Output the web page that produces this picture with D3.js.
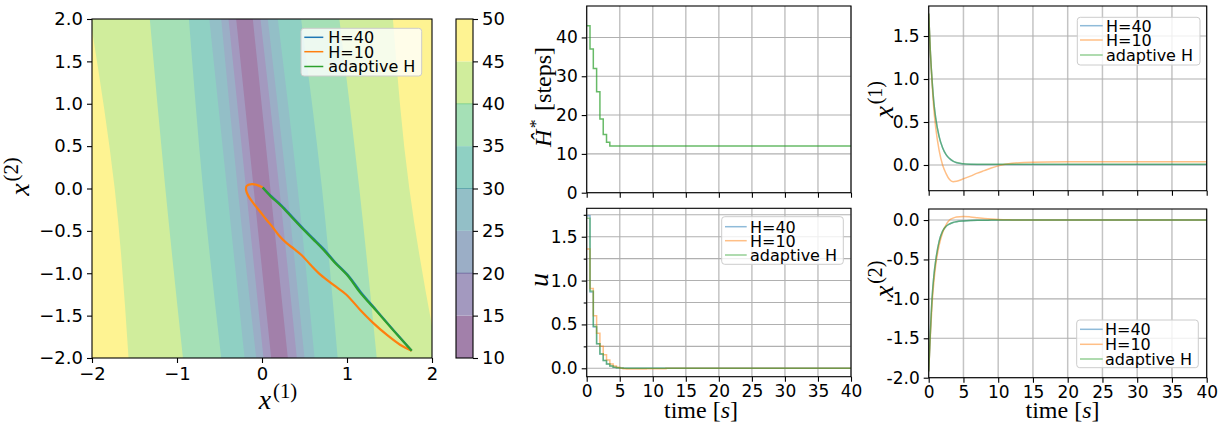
<!DOCTYPE html>
<html>
<head>
<meta charset="utf-8">
<script src="https://cdn.jsdelivr.net/npm/d3@7"></script>
<style>
  body { margin: 0; background: #fff; }
  svg { display: block; }
</style>
</head>
<body>
<svg id="fig" width="1226" height="428"></svg>
<script>
// ---------------- data ----------------
// Contour map of the estimated optimal horizon over the state plane.
// Each boundary is given by its x(1) crossing at the rows x(2) = 2, 0, -2.
const contourRows = [2, 0, -2];
const boundaryLevels = [45, 40, 35, 30, 25, 20, 15];
const leftCrossing = [
  [-2.02, -1.733, -1.57],
  [-1.32, -1.137, -0.93],
  [-0.86, -0.694, -0.48],
  [-0.62, -0.412, -0.205],
  [-0.48, -0.286, -0.068],
  [-0.394, -0.188, 0.018],
  [-0.304, -0.098, 0.108]
];
const rightCrossing = [
  [1.54, 1.733, 2.07],
  [0.91, 1.145, 1.35],
  [0.46, 0.706, 0.89],
  [0.186, 0.42, 0.618],
  [0.068, 0.294, 0.50],
  [-0.018, 0.204, 0.41],
  [-0.108, 0.098, 0.304]
];
const colorbarLevels = [10, 15, 20, 25, 30, 35, 40, 45, 50];
const colorbarEdgeLevels = [20, 30, 40];

// State trajectories in the phase plane (x1, x2)
const phaseH40X1 = [1.761, 1.555, 1.357, 1.160, 1.024, 0.860, 0.732, 0.612, 0.482, 0.360, 0.230, 0.108, 0.008];
const phaseH40X2 = [-1.914, -1.680, -1.450, -1.220, -1.038, -0.870, -0.720, -0.600, -0.470, -0.340, -0.200, -0.090, 0.012];
const phaseH10X1 = [1.761, 1.624, 1.467, 1.310, 1.153, 0.990, 0.845, 0.690, 0.570, 0.470, 0.380, 0.290, 0.200, 0.125, 0.050, -0.024, -0.102, -0.161, -0.188, -0.180, -0.121, -0.062, 0.008];
const phaseH10X2 = [-1.914, -1.843, -1.725, -1.588, -1.430, -1.250, -1.140, -1.020, -0.900, -0.790, -0.715, -0.645, -0.555, -0.455, -0.365, -0.271, -0.173, -0.087, -0.016, 0.031, 0.051, 0.043, 0.012];
const phaseAdaptX1 = [1.761, 1.550, 1.350, 1.150, 1.016, 0.852, 0.722, 0.602, 0.472, 0.350, 0.220, 0.100, 0.008];
const phaseAdaptX2 = [-1.914, -1.680, -1.450, -1.222, -1.038, -0.870, -0.722, -0.600, -0.470, -0.340, -0.200, -0.090, 0.012];

// Adaptive horizon over time (steps)
const horizonTime = [0, 0.5, 1.0, 1.5, 2.0, 2.5, 3.0, 3.5, 40];
const horizonSteps = [43, 37, 32, 26, 19, 15, 13, 12, 12];

// Control input (zero-order hold)
const uTime = [0, 0.5, 1.0, 1.5, 2.0, 2.5, 3.0, 3.5, 4.0, 4.5, 5.0, 5.5, 6.0, 7.0, 8.0, 9.0, 10.0, 12.0, 40];
const uH40 = [1.74, 0.87, 0.47, 0.28, 0.16, 0.09, 0.05, 0.027, 0.013, 0.006, 0.003, 0.001, 0, 0, 0, 0, 0, 0, 0];
const uH10 = [1.36, 0.91, 0.60, 0.40, 0.25, 0.155, 0.095, 0.05, 0.027, 0.011, 0.0, -0.006, -0.009, -0.009, -0.008, -0.006, -0.004, 0, 0];
const uAdapt = [1.71, 0.88, 0.48, 0.28, 0.165, 0.09, 0.05, 0.027, 0.013, 0.006, 0.003, 0.001, 0, 0, 0, 0, 0, 0, 0];

// States over time
const xTime = [0, 0.25, 0.5, 0.75, 1, 1.5, 2, 2.5, 3, 3.5, 4, 5, 6, 7, 8, 9, 10, 12, 15, 20, 25, 30, 35, 40];
const x1H40 = [1.76, 1.30, 0.97, 0.72, 0.55, 0.33, 0.20, 0.12, 0.074, 0.044, 0.027, 0.013, 0.008, 0.007, 0.007, 0.007, 0.007, 0.007, 0.007, 0.007, 0.007, 0.007, 0.007, 0.007];
const x1H10 = [1.76, 1.29, 0.93, 0.64, 0.44, 0.17, 0.00, -0.10, -0.17, -0.195, -0.19, -0.16, -0.13, -0.095, -0.065, -0.035, -0.01, 0.02, 0.033, 0.037, 0.038, 0.038, 0.038, 0.038];
const x1Adapt = [1.76, 1.30, 0.97, 0.72, 0.55, 0.33, 0.20, 0.12, 0.075, 0.045, 0.028, 0.014, 0.009, 0.008, 0.008, 0.008, 0.008, 0.008, 0.008, 0.008, 0.008, 0.008, 0.008, 0.008];
const x2H40 = [-1.92, -1.40, -0.97, -0.70, -0.52, -0.27, -0.14, -0.08, -0.05, -0.032, -0.022, -0.012, -0.006, -0.003, -0.002, -0.001, 0, 0, 0, 0, 0, 0, 0, 0];
const x2H10 = [-1.92, -1.45, -1.05, -0.78, -0.58, -0.32, -0.16, -0.06, 0.0, 0.025, 0.04, 0.046, 0.04, 0.03, 0.02, 0.012, 0.006, 0.002, 0, 0, 0, 0, 0, 0];
const x2Adapt = [-1.92, -1.40, -0.97, -0.70, -0.52, -0.27, -0.14, -0.08, -0.05, -0.032, -0.022, -0.012, -0.006, -0.003, -0.002, -0.001, 0, 0, 0, 0, 0, 0, 0, 0];

// Tick values
const phaseTicksX = [-2, -1, 0, 1, 2];
const phaseTicksY = [-2, -1.5, -1, -0.5, 0, 0.5, 1, 1.5, 2];
const colorbarTicks = [10, 15, 20, 25, 30, 35, 40, 45, 50];
const timeTicks = [0, 5, 10, 15, 20, 25, 30, 35, 40];
const horizonTicks = [0, 10, 20, 30, 40];
const uTicks = [0, 0.5, 1.0, 1.5];
const uMinorTicks = [0.25, 0.75, 1.25, 1.75];
const x1Ticks = [0, 0.5, 1.0, 1.5];
const x2Ticks = [-2, -1.5, -1, -0.5, 0];

const seriesNames = ["H=40", "H=10", "adaptive H"];

// ---------------- drawing ----------------
const svg = d3.select("#fig");
const COL = ["#1f77b4", "#ff7f0e", "#2ca02c"];
const TICK_FS = 17;
const SANS = "DejaVu Sans, sans-serif";
const SERIF = "Liberation Serif, DejaVu Serif, serif";

function styleAxis(g, fs) {
  g.select(".domain").remove();
  g.selectAll(".tick line").attr("stroke", "#000").attr("stroke-width", 1.1);
  g.selectAll(".tick text").attr("font-size", fs).attr("font-family", SANS).attr("fill", "#000");
}
function frame(b) {
  svg.append("rect").attr("x", b.x0).attr("y", b.y0)
    .attr("width", b.x1 - b.x0).attr("height", b.y1 - b.y0)
    .attr("fill", "none").attr("stroke", "#000").attr("stroke-width", 1.1);
}
function grid(x, y, b, xv, yv) {
  const g = svg.append("g");
  g.selectAll(".gv").data(xv).join("line")
    .attr("x1", d => x(d)).attr("x2", d => x(d)).attr("y1", b.y0).attr("y2", b.y1)
    .attr("stroke", "#c4c4c4").attr("stroke-width", 1.5);
  g.selectAll(".gh").data(yv).join("line")
    .attr("y1", d => y(d)).attr("y2", d => y(d)).attr("x1", b.x0).attr("x2", b.x1)
    .attr("stroke", "#b0b0b0").attr("stroke-width", 1.1);
}
function legend(b, rows, opacity) {
  const g = svg.append("g");
  g.append("rect").attr("x", b.x0).attr("y", b.y0).attr("width", b.x1 - b.x0).attr("height", b.y1 - b.y0)
    .attr("rx", 3).attr("fill", "#fff").attr("fill-opacity", 0.8).attr("stroke", "#cccccc").attr("stroke-width", 1);
  seriesNames.forEach((name, i) => {
    const cy = rows.y[i];
    g.append("line").attr("x1", rows.h0).attr("x2", rows.h1).attr("y1", cy).attr("y2", cy)
      .attr("stroke", COL[i]).attr("stroke-width", rows.w).attr("stroke-opacity", opacity);
    g.append("text").attr("x", rows.tx).attr("y", cy + 5.8).attr("font-size", 16)
      .attr("font-family", SANS).attr("fill", "#000").text(name);
  });
}
function mathLabel(x, y, rot, parts, fs) {
  const t = svg.append("text").attr("font-family", SERIF).attr("font-size", fs)
    .attr("text-anchor", "middle").attr("fill", "#000")
    .attr("transform", `translate(${x},${y})` + (rot ? " rotate(-90)" : ""));
  parts.forEach(p => {
    const s = t.append("tspan").text(p.t);
    if (p.i) s.attr("font-style", "italic");
    if (p.sup) s.attr("font-size", fs * 0.74).attr("dy", -fs * 0.4).attr("dx", fs * 0.06);
    if (p.down) s.attr("dy", fs * 0.4).attr("dx", fs * 0.35);
  });
}

// ---- Panel A: contour map ----
const A = { x0: 92, x1: 432, y0: 19, y1: 358 };
const xa = d3.scaleLinear().domain([-2, 2]).range([A.x0, A.x1]);
const ya = d3.scaleLinear().domain([-2, 2]).range([A.y1, A.y0]);
const bandColor = i => d3.interpolateRgb("#ffffff", d3.interpolateViridis(i / 7))(0.5);

svg.append("clipPath").attr("id", "clipA").append("rect")
  .attr("x", A.x0).attr("y", A.y0).attr("width", A.x1 - A.x0).attr("height", A.y1 - A.y0);
const gA = svg.append("g").attr("clip-path", "url(#clipA)");
gA.append("rect").attr("x", A.x0).attr("y", A.y0).attr("width", A.x1 - A.x0).attr("height", A.y1 - A.y0)
  .attr("fill", bandColor(7));
const bandArea = d3.area().curve(d3.curveNatural)
  .y(d => ya(d.r)).x0(d => xa(d.l)).x1(d => xa(d.rt));
boundaryLevels.forEach((L, k) => {
  const pts = contourRows.map((r, j) => ({ r, l: leftCrossing[k][j], rt: rightCrossing[k][j] }));
  gA.append("path").attr("d", bandArea(pts)).attr("fill", bandColor((L - 10) / 5 - 1));
});

const phaseLine = d3.line().curve(d3.curveCatmullRom.alpha(0.5)).x(d => xa(d[0])).y(d => ya(d[1]));
[[phaseH40X1, phaseH40X2], [phaseH10X1, phaseH10X2], [phaseAdaptX1, phaseAdaptX2]].forEach((s, i) => {
  gA.append("path").attr("d", phaseLine(d3.zip(s[0], s[1])))
    .attr("fill", "none").attr("stroke", COL[i]).attr("stroke-width", 2.2).attr("stroke-linejoin", "round");
});
frame(A);
styleAxis(svg.append("g").attr("transform", `translate(0,${A.y1})`)
  .call(d3.axisBottom(xa).tickValues(phaseTicksX).tickFormat(d3.format("d")).tickSize(5).tickPadding(4)), 18);
styleAxis(svg.append("g").attr("transform", `translate(${A.x0},0)`)
  .call(d3.axisLeft(ya).tickValues(phaseTicksY).tickFormat(d3.format(".1f")).tickSize(5).tickPadding(4)), 18);
legend({ x0: 301, x1: 421.7, y0: 28.3, y1: 76 }, { y: [37.3, 51.7, 66.5], h0: 304.3, h1: 323.3, tx: 328.3, w: 1.5 }, 1);
mathLabel(278, 409, false, [{ t: "x", i: true }, { t: "(1)", sup: true }], 28);
mathLabel(29, 176.5, true, [{ t: "x", i: true }, { t: "(2)", sup: true }], 28);

// ---- colorbar ----
const CB = { x0: 456, x1: 473, y0: 19, y1: 358 };
const yc = d3.scaleLinear().domain([10, 50]).range([CB.y1, CB.y0]);
svg.append("g").selectAll("rect").data(d3.range(colorbarLevels.length - 1)).join("rect")
  .attr("x", CB.x0).attr("width", CB.x1 - CB.x0)
  .attr("y", i => yc(colorbarLevels[i + 1])).attr("height", i => yc(colorbarLevels[i]) - yc(colorbarLevels[i + 1]))
  .attr("fill", i => bandColor(i));
svg.append("g").selectAll("line").data(colorbarEdgeLevels).join("line")
  .attr("x1", CB.x0).attr("x2", CB.x1).attr("y1", d => yc(d)).attr("y2", d => yc(d))
  .attr("stroke", d => d3.interpolateViridis(((d - 10) / 5 - 1) / 7)).attr("stroke-opacity", 0.55).attr("stroke-width", 1);
frame(CB);
styleAxis(svg.append("g").attr("transform", `translate(${CB.x1},0)`)
  .call(d3.axisRight(yc).tickValues(colorbarTicks).tickFormat(d3.format("d")).tickSize(5).tickPadding(4)), 18);

// ---- shared time-panel helpers ----
function timePanel(b, yDom) {
  const x = d3.scaleLinear().domain([0, 40]).range([b.x0, b.x1]);
  const y = d3.scaleLinear().domain(yDom).range([b.y1, b.y0]);
  return { x, y };
}
function clipFor(id, b) {
  svg.append("clipPath").attr("id", id).append("rect")
    .attr("x", b.x0).attr("y", b.y0).attr("width", b.x1 - b.x0).attr("height", b.y1 - b.y0);
  return svg.append("g").attr("clip-path", `url(#${id})`);
}

// ---- Panel B: adaptive horizon ----
const B = { x0: 586.7, x1: 851, y0: 6, y1: 192.7 };
const sB = timePanel(B, [0, 48.1]);
grid(sB.x, sB.y, B, timeTicks, horizonTicks);
clipFor("clipB", B).append("path")
  .attr("d", d3.line().curve(d3.curveStepAfter).x((d, i) => sB.x(horizonTime[i])).y(d => sB.y(d))(horizonSteps))
  .attr("fill", "none").attr("stroke", COL[2]).attr("stroke-width", 1.5).attr("stroke-opacity", 0.72);
frame(B);
styleAxis(svg.append("g").attr("transform", `translate(0,${B.y1})`)
  .call(d3.axisBottom(sB.x).tickValues(timeTicks).tickFormat("").tickSize(5)), TICK_FS);
styleAxis(svg.append("g").attr("transform", `translate(${B.x0},0)`)
  .call(d3.axisLeft(sB.y).tickValues(horizonTicks).tickFormat(d3.format("d")).tickSize(5).tickPadding(4)), TICK_FS);
mathLabel(551, 97, true, [{ t: "Ĥ", i: true }, { t: "*", sup: true }, { t: "[steps]", down: true }], 24);

// ---- Panel C: control input ----
const Cp = { x0: 586.7, x1: 851, y0: 208.3, y1: 376.7 };
const sC = timePanel(Cp, [-0.096, 1.824]);
grid(sC.x, sC.y, Cp, timeTicks, uTicks.concat(uMinorTicks));
const gC = clipFor("clipC", Cp);
const stepLine = (s) => d3.line().curve(d3.curveStepAfter).x((d, i) => s.x(uTime[i])).y(d => s.y(d));
[uH40, uH10, uAdapt].forEach((v, i) => {
  gC.append("path").attr("d", stepLine(sC)(v)).attr("fill", "none")
    .attr("stroke", COL[i]).attr("stroke-width", 1.5).attr("stroke-opacity", 0.5);
});
frame(Cp);
styleAxis(svg.append("g").attr("transform", `translate(0,${Cp.y1})`)
  .call(d3.axisBottom(sC.x).tickValues(timeTicks).tickFormat(d3.format("d")).tickSize(5).tickPadding(3)), TICK_FS);
styleAxis(svg.append("g").attr("transform", `translate(${Cp.x0},0)`)
  .call(d3.axisLeft(sC.y).tickValues(uTicks).tickFormat(d3.format(".1f")).tickSize(5).tickPadding(4)), TICK_FS);
styleAxis(svg.append("g").attr("transform", `translate(${Cp.x0},0)`)
  .call(d3.axisLeft(sC.y).tickValues(uMinorTicks).tickFormat("").tickSize(3)), TICK_FS);
legend({ x0: 721.7, x1: 843.3, y0: 216.7, y1: 264.3 }, { y: [226.7, 240.7, 255], h0: 725, h1: 746.7, tx: 750, w: 1.5 }, 0.5);
mathLabel(548, 280, true, [{ t: "u", i: true }], 28);
mathLabel(701, 418, false, [{ t: "time [" }, { t: "s", i: true }, { t: "]" }], 24);

// ---- Panel D: first state ----
const D = { x0: 928.7, x1: 1206.7, y0: 6, y1: 190.7 };
const sD = timePanel(D, [-0.299, 1.849]);
grid(sD.x, sD.y, D, timeTicks, x1Ticks);
const gD = clipFor("clipD", D);
const smooth = (s) => d3.line().curve(d3.curveMonotoneX).x((d, i) => s.x(xTime[i])).y(d => s.y(d));
[x1H40, x1H10, x1Adapt].forEach((v, i) => {
  gD.append("path").attr("d", smooth(sD)(v)).attr("fill", "none")
    .attr("stroke", COL[i]).attr("stroke-width", 1.5).attr("stroke-opacity", 0.5);
});
frame(D);
styleAxis(svg.append("g").attr("transform", `translate(0,${D.y1})`)
  .call(d3.axisBottom(sD.x).tickValues(timeTicks).tickFormat("").tickSize(5)), TICK_FS);
styleAxis(svg.append("g").attr("transform", `translate(${D.x0},0)`)
  .call(d3.axisLeft(sD.y).tickValues(x1Ticks).tickFormat(d3.format(".1f")).tickSize(5).tickPadding(4)), TICK_FS);
legend({ x0: 1077.3, x1: 1200, y0: 17.3, y1: 65 }, { y: [25.7, 40, 55], h0: 1080, h1: 1102.7, tx: 1106, w: 1.5 }, 0.5);
mathLabel(893, 99.5, true, [{ t: "x", i: true }, { t: "(1)", sup: true }], 27);

// ---- Panel E: second state ----
const E = { x0: 928.7, x1: 1206.7, y0: 209, y1: 377.7 };
const sE = timePanel(E, [-2.0, 0.14]);
grid(sE.x, sE.y, E, timeTicks, x2Ticks);
const gE = clipFor("clipE", E);
[x2H40, x2H10, x2Adapt].forEach((v, i) => {
  gE.append("path").attr("d", smooth(sE)(v)).attr("fill", "none")
    .attr("stroke", COL[i]).attr("stroke-width", 1.5).attr("stroke-opacity", 0.5);
});
frame(E);
styleAxis(svg.append("g").attr("transform", `translate(0,${E.y1})`)
  .call(d3.axisBottom(sE.x).tickValues(timeTicks).tickFormat(d3.format("d")).tickSize(5).tickPadding(3)), TICK_FS);
styleAxis(svg.append("g").attr("transform", `translate(${E.x0},0)`)
  .call(d3.axisLeft(sE.y).tickValues(x2Ticks).tickFormat(d => d.toFixed(1)).tickSize(5).tickPadding(4)), TICK_FS);
legend({ x0: 1076.7, x1: 1198.3, y0: 320, y1: 367.7 }, { y: [329.3, 344.3, 359], h0: 1080, h1: 1102.7, tx: 1105, w: 1.5 }, 0.5);
mathLabel(893, 279, true, [{ t: "x", i: true }, { t: "(2)", sup: true }], 27);
mathLabel(1062.5, 418, false, [{ t: "time [" }, { t: "s", i: true }, { t: "]" }], 24);
</script>
</body>
</html>
